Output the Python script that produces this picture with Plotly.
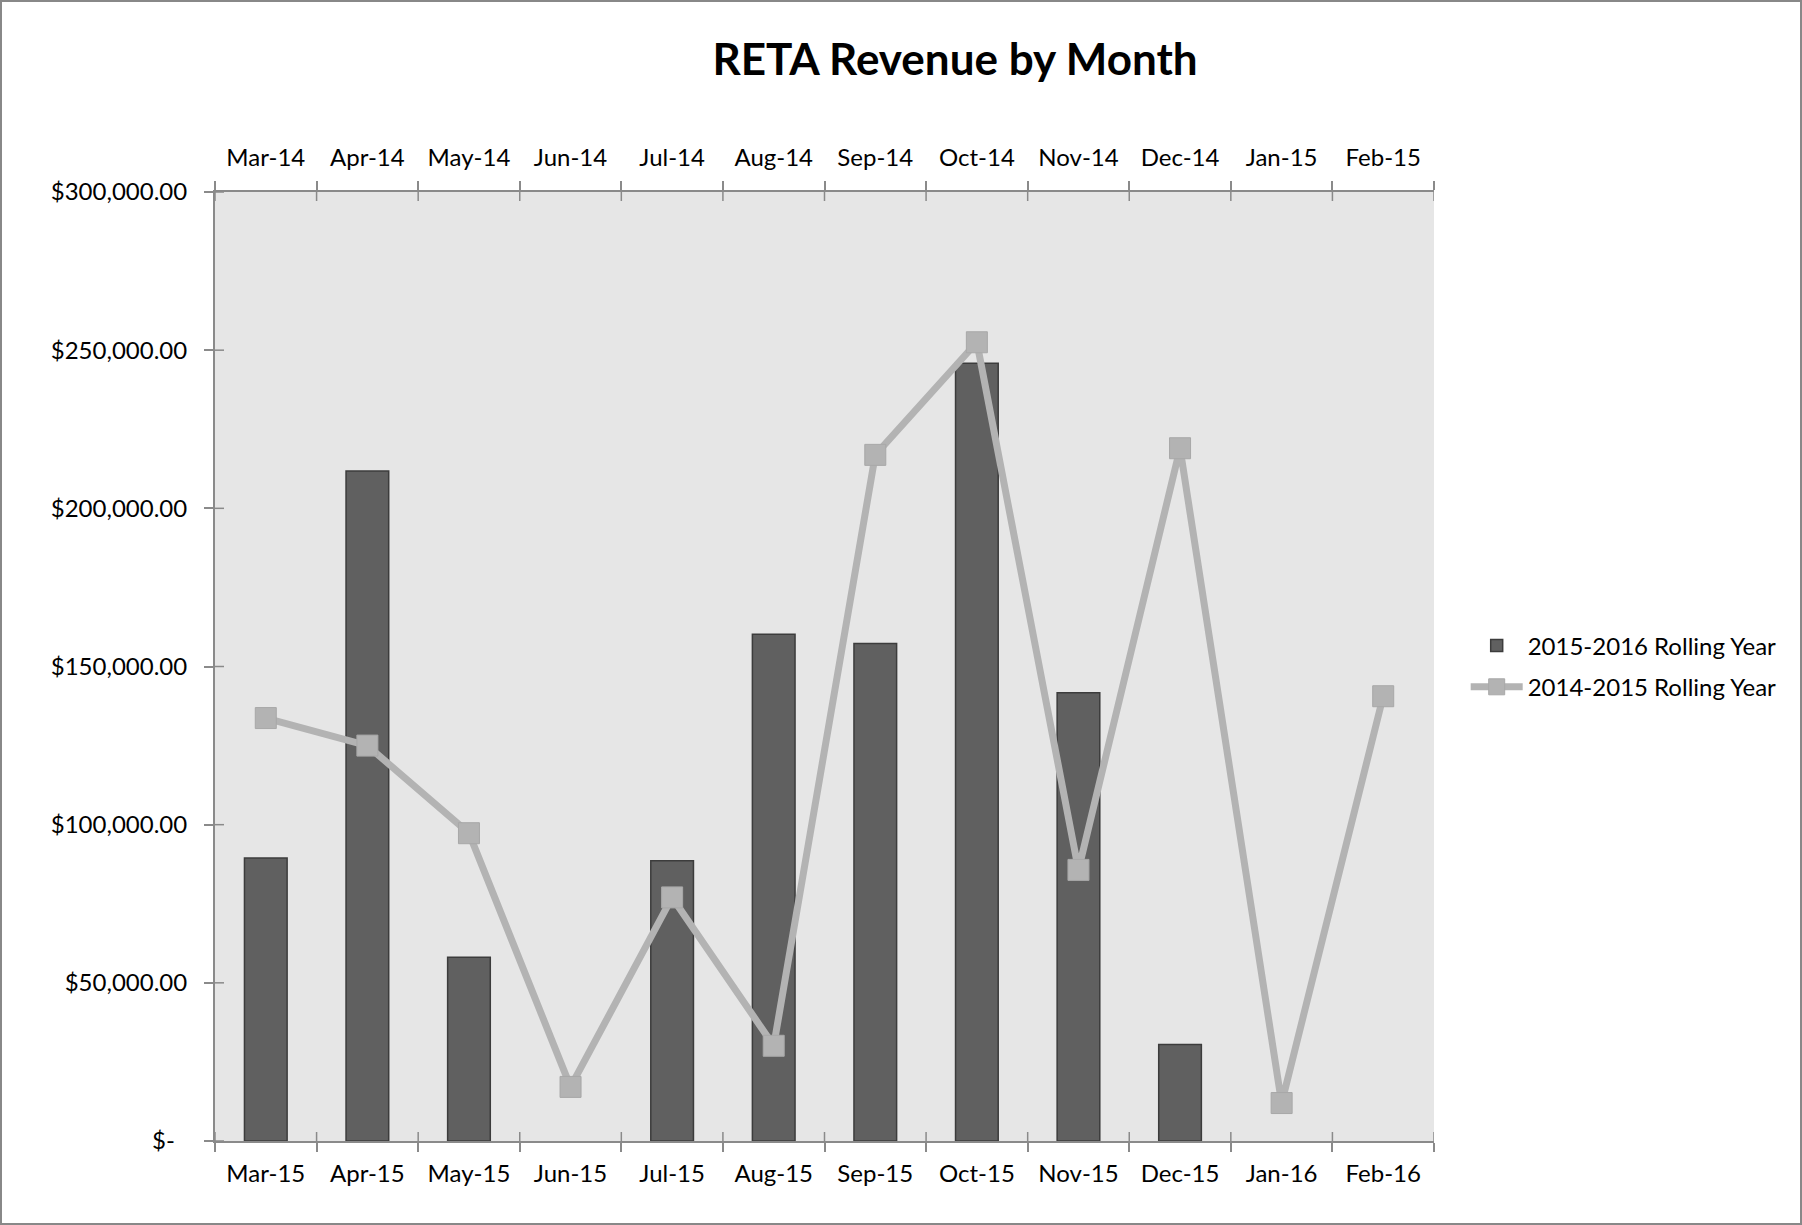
import plotly.graph_objects as go

months_bottom = ["Mar-15", "Apr-15", "May-15", "Jun-15", "Jul-15", "Aug-15",
                 "Sep-15", "Oct-15", "Nov-15", "Dec-15", "Jan-16", "Feb-16"]
months_top = ["Mar-14", "Apr-14", "May-14", "Jun-14", "Jul-14", "Aug-14",
              "Sep-14", "Oct-14", "Nov-14", "Dec-14", "Jan-15", "Feb-15"]
rev_2015_2016 = [89500, 211800, 58100, None, 88600, 160200,
                 157300, 245900, 141700, 30500, None, None]
rev_2014_2015 = [133700, 125000, 97300, 17100, 77000, 30100,
                 216900, 252500, 85700, 219000, 12000, 140600]
y_tickvals = [0, 50000, 100000, 150000, 200000, 250000, 300000]
y_ticktext = ["$-\u00a0\u00a0", "$50,000.00", "$100,000.00", "$150,000.00",
              "$200,000.00", "$250,000.00", "$300,000.00"]

FONT = "Lato, Carlito, Calibri, sans-serif"
AX = "#8a8a8a"
TL = 9
n = len(months_bottom)
boundaries = [i - 0.5 for i in range(n + 1)]
y_min, y_max = y_tickvals[0], y_tickvals[-1]

fig = go.Figure()
fig.add_trace(go.Bar(
    x=months_bottom, y=rev_2015_2016, name="2015-2016 Rolling Year",
    marker=dict(color="#606060", line=dict(color="#3c3c3c", width=1.5)),
    xaxis="x", yaxis="y", legendgroup="a",
))
fig.add_trace(go.Scatter(
    x=months_top, y=rev_2014_2015, name="2014-2015 Rolling Year",
    mode="lines+markers",
    line=dict(color="#b3b3b3", width=7),
    marker=dict(symbol="square", size=21, color="#b3b3b3",
                line=dict(color="#a8a8a8", width=1)),
    xaxis="x2", yaxis="y", legendgroup="b",
))

# inner halves of the crossing tick marks (Excel "cross" ticks)
tick_shapes = []
for b in boundaries:
    tick_shapes.append(dict(type="line", xref="x", yref="y", ysizemode="pixel",
                            yanchor=y_min, x0=b, x1=b, y0=0, y1=TL,
                            line=dict(color=AX, width=1.5), layer="above"))
    tick_shapes.append(dict(type="line", xref="x", yref="y", ysizemode="pixel",
                            yanchor=y_max, x0=b, x1=b, y0=0, y1=-TL,
                            line=dict(color=AX, width=1.5), layer="above"))
for v in y_tickvals:
    tick_shapes.append(dict(type="line", xref="x", yref="y", xsizemode="pixel",
                            xanchor=boundaries[0], x0=0, x1=TL, y0=v, y1=v,
                            line=dict(color=AX, width=1.5), layer="above"))
frame = dict(type="rect", xref="paper", yref="paper",
             x0=-214 / 1219, x1=1586 / 1219, y0=-83 / 949, y1=1140 / 949,
             line=dict(color="#888888", width=2), fillcolor="rgba(0,0,0,0)",
             layer="above")

tickfont = dict(family=FONT, size=24, color="#000000")
fig.update_layout(
    width=1802, height=1225,
    paper_bgcolor="white", plot_bgcolor="#e6e6e6",
    margin=dict(l=215, r=368, t=192, b=84),
    title=dict(text="<b>RETA Revenue by Month</b>", x=0.53, xanchor="center",
               y=1 - 60 / 1225, yanchor="middle",
               font=dict(family=FONT, size=44, color="#000000")),
    bargap=0.58,
    showlegend=True,
    legend=dict(x=1.026, xanchor="left", y=0.5, yanchor="middle",
                font=dict(family=FONT, size=24, color="#000000"),
                bgcolor="rgba(0,0,0,0)", tracegroupgap=7, itemwidth=52),
    xaxis=dict(type="category", categoryarray=months_bottom, categoryorder="array",
               range=[-0.5, n - 0.5], side="bottom", anchor="y",
               showline=True, linecolor=AX, linewidth=2,
               ticks="outside", tickson="boundaries", ticklen=TL, tickwidth=1.5,
               tickcolor=AX, tickfont=tickfont, showgrid=False, zeroline=False,
               ticklabelstandoff=10),
    xaxis2=dict(type="category", categoryarray=months_top, categoryorder="array",
                range=[-0.5, n - 0.5], side="top", overlaying="x", anchor="y",
                showline=True, linecolor=AX, linewidth=2,
                ticks="outside", tickson="boundaries", ticklen=TL, tickwidth=1.5,
                tickcolor=AX, tickfont=tickfont, showgrid=False, zeroline=False,
                ticklabelstandoff=14),
    yaxis=dict(range=[y_min, y_max], tickmode="array", tickvals=y_tickvals,
               ticktext=y_ticktext, showline=True, linecolor=AX, linewidth=2,
               ticks="outside", ticklen=TL, tickwidth=1.5, tickcolor=AX,
               tickfont=tickfont, showgrid=False, zeroline=False,
               ticklabelstandoff=12),
    shapes=tick_shapes + [frame],
)

fig.write_html("out.html", config={"displayModeBar": False},
               post_script="document.body.style.margin='0';document.body.style.overflow='hidden';")
